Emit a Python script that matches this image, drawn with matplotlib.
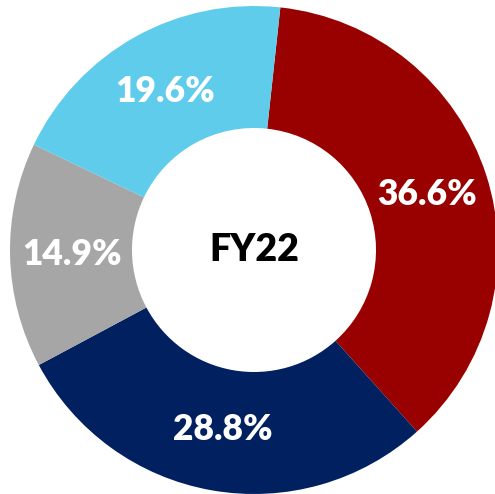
import matplotlib
matplotlib.use("Agg")
import matplotlib.pyplot as plt

categories = ["A", "B", "C", "D"]
values = [36.6, 28.8, 14.9, 19.6]
labels = ["36.6%", "28.8%", "14.9%", "19.6%"]
colors = ["#990000", "#002060", "#A6A6A6", "#5FCCEC"]
center_text = "FY22"

fig = plt.figure(figsize=(4.95, 4.94), dpi=100)
W, H = 495, 494
cx, cy, R = 254, 250, 244
ax = fig.add_axes([(cx - R) / W, (H - cy - R) / H, 2 * R / W, 2 * R / H])

wedges, texts = ax.pie(values, colors=colors, startangle=90 - 6.2, counterclock=False,
                       radius=1.0, wedgeprops=dict(width=0.5, linewidth=0),
                       labels=labels, labeldistance=0.745, normalize=True)
for t in texts:
    t.set_color("white")
    t.set_fontsize(25.5)
    t.set_fontweight("heavy")
    t.set_family("Lato")
    t.set_ha("center")
    t.set_va("center")

ax.text(0, 0, center_text, ha="center", va="center", fontsize=27,
        fontweight="heavy", family="Lato", color="black")
ax.set_xlim(-1, 1)
ax.set_ylim(-1, 1)
ax.set_aspect("auto")
ax.axis("off")
fig.savefig("out.png", dpi=100)
